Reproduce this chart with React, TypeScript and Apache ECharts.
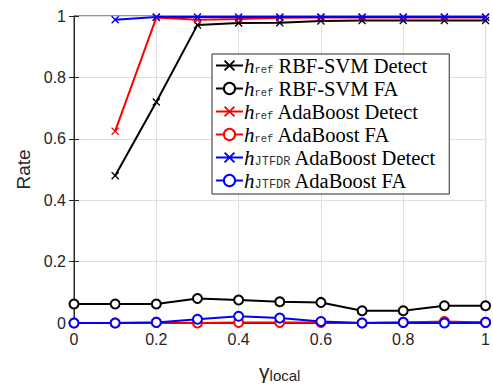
import React, { useEffect, useRef } from "react";
import * as echarts from "echarts";

const gamma = [0, 0.1, 0.2, 0.3, 0.4, 0.5, 0.6, 0.7, 0.8, 0.9, 1.0];
const rbfDetect = [null, 0.48, 0.72, 0.971, 0.977, 0.978, 0.984, 0.985, 0.985, 0.985, 0.985];
const rbfFA = [0.062, 0.062, 0.062, 0.08, 0.075, 0.069, 0.067, 0.04, 0.04, 0.056, 0.056];
const adaDetect = [null, 0.625, 0.995, 0.988, 0.99, 0.994, 0.995, 0.995, 0.995, 0.995, 0.995];
const adaFA = [0, 0, 0.002, 0, 0.002, 0.002, 0.002, 0, 0.002, 0.005, 0.002];
const jtDetect = [null, 0.988, 0.997, 0.997, 0.997, 0.997, 0.997, 0.997, 0.997, 0.997, 0.997];
const jtFA = [0, 0, 0.002, 0.012, 0.022, 0.016, 0.005, 0, 0.002, 0, 0.002];

const seriesNames = [
  "h ref RBF-SVM Detect",
  "h ref RBF-SVM FA",
  "h ref AdaBoost Detect",
  "h ref AdaBoost FA",
  "h JTFDR AdaBoost Detect",
  "h JTFDR AdaBoost FA",
];
const legendRich: Record<string, string> = {
  "h ref RBF-SVM Detect": "{h|h}{s|ref}{t| RBF-SVM Detect}",
  "h ref RBF-SVM FA": "{h|h}{s|ref}{t| RBF-SVM FA}",
  "h ref AdaBoost Detect": "{h|h}{s|ref}{t| AdaBoost Detect}",
  "h ref AdaBoost FA": "{h|h}{s|ref}{t| AdaBoost FA}",
  "h JTFDR AdaBoost Detect": "{h|h}{j|JTFDR}{t| AdaBoost Detect}",
  "h JTFDR AdaBoost FA": "{h|h}{j|JTFDR}{t| AdaBoost FA}",
};
const seriesValues = [rbfDetect, rbfFA, adaDetect, adaFA, jtDetect, jtFA];
const seriesColors = ["#000000", "#000000", "#ff0000", "#ff0000", "#0000ff", "#0000ff"];
const seriesMarkers = ["x", "o", "x", "o", "x", "o"];

const X_PATH =
  "path://M0,1.2L1.2,0L5,3.8L8.8,0L10,1.2L6.2,5L10,8.8L8.8,10L5,6.2L1.2,10L0,8.8L3.8,5Z";

export default function App() {
  const ref = useRef<HTMLDivElement>(null);
  useEffect(() => {
    if (!ref.current) return;
    const chart = echarts.init(ref.current, undefined, { renderer: "svg" });
    const series = seriesNames.map((name, i) => {
      const pts = gamma
        .map((g, j) => [g, seriesValues[i][j]])
        .filter((p) => p[1] !== null);
      const isX = seriesMarkers[i] === "x";
      return {
        name,
        type: "line",
        data: pts,
        symbol: isX ? X_PATH : "emptyCircle",
        symbolSize: isX ? 8 : 9,
        showSymbol: true,
        lineStyle: { color: seriesColors[i], width: 2 },
        itemStyle: isX
          ? { color: seriesColors[i], borderWidth: 0 }
          : { color: seriesColors[i], borderColor: seriesColors[i], borderWidth: 2 },
        z: 2 + i,
      };
    });
    const axisColor = "#262626";
    const subStyle = (size: number) => ({
      fontFamily: "Liberation Mono",
      fontSize: size,
      lineHeight: 10,
      verticalAlign: "bottom",
      color: "#333",
    });
    chart.setOption({
      animation: false,
      backgroundColor: "#ffffff",
      grid: {
        left: 74,
        right: 7,
        top: 16,
        bottom: 67,
        show: true,
        borderColor: axisColor,
        borderWidth: 1,
        backgroundColor: "transparent",
      },
      legend: {
        orient: "vertical",
        left: 212,
        top: 54,
        data: seriesNames,
        backgroundColor: "#ffffff",
        borderColor: axisColor,
        borderWidth: 1,
        borderRadius: 0,
        padding: [1, 13, 3, 3],
        itemWidth: 27,
        itemHeight: 14,
        itemGap: 2,
        formatter: (n: string) => legendRich[n],
        textStyle: {
          fontFamily: "Liberation Serif",
          fontSize: 20.5,
          color: "#000",
          lineHeight: 20,
          padding: [0, 0, 0, -4],
          rich: {
            h: {
              fontFamily: "Liberation Serif",
              fontStyle: "italic",
              fontSize: 21,
              lineHeight: 20,
              color: "#000",
            },
            s: subStyle(10.5),
            j: subStyle(12),
            t: {
              fontFamily: "Liberation Serif",
              fontSize: 20.5,
              lineHeight: 20,
              color: "#000",
            },
          },
        },
      },
      xAxis: [
        {
          type: "value",
          min: 0,
          max: 1,
          interval: 0.2,
          name: "{g|γ}{s|local}",
          nameLocation: "middle",
          nameGap: 36,
          nameTextStyle: {
            rich: {
              g: { fontFamily: "Liberation Sans", fontSize: 21, color: axisColor, lineHeight: 24 },
              s: {
                fontFamily: "Liberation Sans",
                fontSize: 15,
                color: axisColor,
                lineHeight: 14,
                verticalAlign: "bottom",
              },
            },
          },
          axisLine: { show: true, lineStyle: { color: axisColor } },
          axisTick: { show: true, inside: true, length: 5, lineStyle: { color: axisColor } },
          axisLabel: { fontFamily: "Liberation Sans", fontSize: 16, color: axisColor, margin: 8 },
          splitLine: { show: true, lineStyle: { color: "#dfdfdf", width: 1 } },
        },
        {
          type: "value",
          position: "top",
          min: 0,
          max: 1,
          interval: 0.2,
          axisLine: { show: true, lineStyle: { color: axisColor } },
          axisTick: { show: true, inside: true, length: 5, lineStyle: { color: axisColor } },
          axisLabel: { show: false },
          splitLine: { show: false },
        },
      ],
      yAxis: [
        {
          type: "value",
          min: 0,
          max: 1,
          interval: 0.2,
          name: "Rate",
          nameLocation: "middle",
          nameGap: 41,
          nameTextStyle: { fontFamily: "Liberation Sans", fontSize: 19, color: axisColor },
          axisLine: { show: true, lineStyle: { color: axisColor } },
          axisTick: { show: true, inside: true, length: 5, lineStyle: { color: axisColor } },
          axisLabel: { fontFamily: "Liberation Sans", fontSize: 16, color: axisColor, margin: 8 },
          splitLine: { show: true, lineStyle: { color: "#dfdfdf", width: 1 } },
        },
        {
          type: "value",
          position: "right",
          min: 0,
          max: 1,
          interval: 0.2,
          axisLine: { show: true, lineStyle: { color: axisColor } },
          axisTick: { show: true, inside: true, length: 5, lineStyle: { color: axisColor } },
          axisLabel: { show: false },
          splitLine: { show: false },
        },
      ],
      series,
    });
    return () => chart.dispose();
  }, []);
  return (
    <div
      ref={ref}
      style={{ position: "absolute", left: 0, top: 0, width: 493, height: 390 }}
    />
  );
}
